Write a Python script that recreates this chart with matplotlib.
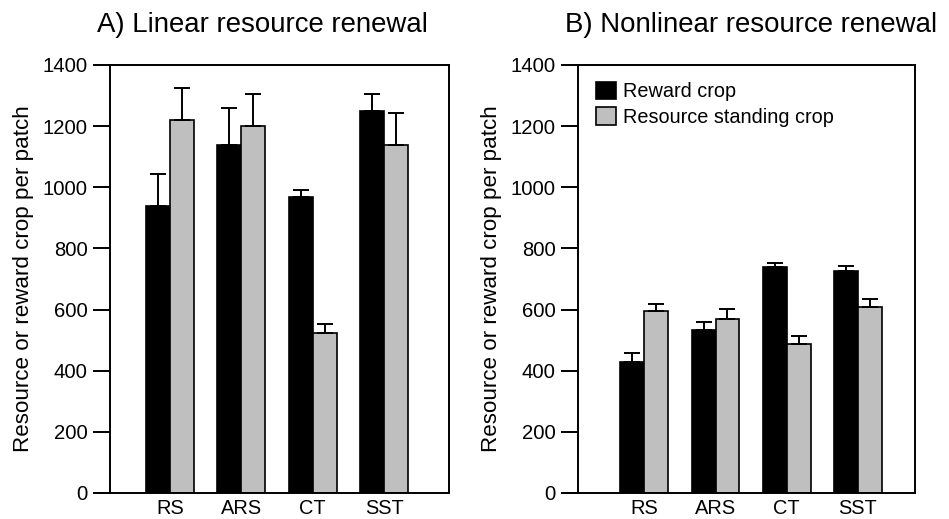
import matplotlib
matplotlib.use("Agg")
import matplotlib.pyplot as plt
import numpy as np

plt.rcParams['font.family'] = ['Liberation Sans', 'DejaVu Sans']

strategies = ['RS', 'ARS', 'CT', 'SST']

# A) linear renewal
lin_reward = [940, 1138, 968, 1248]
lin_reward_err = [105, 120, 23, 57]
lin_resource = [1220, 1202, 522, 1137]
lin_resource_err = [104, 103, 30, 105]

# B) nonlinear renewal
nl_reward = [428, 532, 739, 727]
nl_reward_err = [30, 27, 12, 17]
nl_resource = [595, 570, 486, 608]
nl_resource_err = [24, 31, 26, 26]

fig = plt.figure(figsize=(9.49, 5.19), dpi=100)
ax1 = fig.add_axes([110/949, 1-493/519, 339/949, 428/519])
ax2 = fig.add_axes([578/949, 1-493/519, 337/949, 428/519])

w = 0.335
x = np.arange(len(strategies))


def draw(ax, reward, reward_err, resource, resource_err, xlim):
    ekw = dict(ecolor='black', elinewidth=1.4, capsize=6, capthick=1.4)
    ax.bar(x - w/2, reward, w, color='black', edgecolor='black', linewidth=1.2,
           yerr=[np.zeros(4), reward_err], error_kw=ekw, label='Reward crop')
    ax.bar(x + w/2, resource, w, color='#bfbfbf', edgecolor='black', linewidth=1.2,
           yerr=[np.zeros(4), resource_err], error_kw=ekw, label='Resource standing crop')
    ax.set_xlim(*xlim)
    ax.set_ylim(0, 1400)
    ax.set_yticks(range(0, 1401, 200))
    ax.set_xticks(x)
    ax.set_xticklabels(strategies)
    ax.tick_params(axis='x', length=0, pad=4, labelsize=14.4)
    ax.tick_params(axis='y', length=12, width=1.4, direction='out', pad=4, labelsize=14.6)
    for s in ax.spines.values():
        s.set_linewidth(1.4)
    ax.spines['bottom'].set_visible(False)
    # baseline runs out past the spine to meet the zero tick
    ax.plot([xlim[0] - 12/71.3, xlim[1]], [0, 0], color='black', linewidth=1.4,
            clip_on=False, zorder=5, solid_capstyle='butt')
    ax.set_ylabel('Resource or reward crop per patch', fontsize=16.1, labelpad=6)


draw(ax1, lin_reward, lin_reward_err, lin_resource, lin_resource_err, (-0.84, 3.91))
draw(ax2, nl_reward, nl_reward_err, nl_resource, nl_resource_err, (-0.93, 3.80))

ax2.legend(loc='upper left', bbox_to_anchor=(0.03, 0.98), frameon=False, fontsize=14.3,
           handlelength=1.0, handleheight=1.0, handletextpad=0.35, labelspacing=0.3,
           borderaxespad=0)

fig.text(97/949, 1-32/519, 'A) Linear resource renewal', fontsize=19.9, ha='left', va='baseline')
fig.text(565/949, 1-32/519, 'B) Nonlinear resource renewal', fontsize=19.9, ha='left', va='baseline')

fig.savefig('out.png', dpi=100)
